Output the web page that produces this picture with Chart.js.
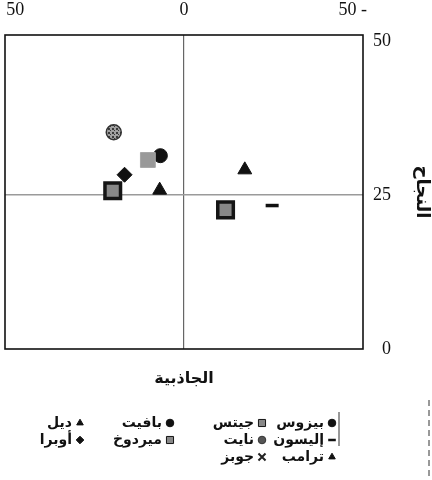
<!DOCTYPE html>
<html lang="ar">
<head>
<meta charset="utf-8">
<script src="https://cdn.jsdelivr.net/npm/chart.js@4.4.0/dist/chart.umd.min.js"></script>
<style>
  html, body { margin: 0; padding: 0; background: #fff; }
</style>
</head>
<body>
<canvas id="chart" width="432" height="480"></canvas>
<script>
// people, in legend order (rows of four, right to left)
const names = ['بيزوس', 'جيتس', 'بافيت', 'ديل', 'إليسون', 'نايت', 'ميردوخ', 'أوبرا', 'ترامب', 'جوبز'];
const attraction = [7.0, -12.3, 10.7, 7.2, -26.1, 20.8, 21.1, 17.6, -18.0, 10.7];
const score = [31.4, 22.6, 30.7, 25.8, 23.3, 35.2, 25.7, 28.3, 29.1, 30.7];

const xTicks = [50, 0, -50];
const xTickLabels = ['50', '0', '50 -'];
const yTicks = [0, 25, 50];
const yTickLabels = ['\u20070', '25', '50'];

const xTitle = 'الجاذبية';
const yTitle = 'النجاح';

// hatched fill for one of the circles
function hatchFill() {
  const p = document.createElement('canvas');
  p.width = 4; p.height = 4;
  const g = p.getContext('2d');
  g.fillStyle = '#a0a0a0';
  g.fillRect(0, 0, 4, 4);
  g.fillStyle = '#3a3a3a';
  g.fillRect(0, 0, 2, 2);
  g.fillRect(2, 2, 1, 1);
  return g.createPattern(p, 'repeat');
}

const markers = [
  { style: 'circle',   r: 7,   fill: '#111', line: '#111', w: 1 },
  { style: 'rect',     r: 11,  fill: '#888', line: '#151515', w: 3.5 },
  { style: 'circle',   r: 6,   fill: '#111', line: '#111', w: 1 },
  { style: 'triangle', r: 8,   fill: '#111', line: '#111', w: 1 },
  { style: 'line',     r: 6.5, fill: '#111', line: '#111', w: 3.5 },
  { style: 'circle',   r: 7.5, fill: hatchFill(), line: '#333', w: 1.5 },
  { style: 'rect',     r: 11,  fill: '#888', line: '#151515', w: 3.5 },
  { style: 'rectRot',  r: 7.5, fill: '#111', line: '#111', w: 1 },
  { style: 'triangle', r: 8,   fill: '#111', line: '#111', w: 1 },
  { style: 'rect',     r: 10.5, fill: '#999', line: '#a5a5a5', w: 1, legendStyle: 'crossRot', front: true }
];

const datasets = names.map((name, i) => ({
  label: name,
  data: [{ x: attraction[i], y: score[i] }],
  order: markers[i].front ? 0 : 1,
  pointStyle: markers[i].style,
  pointRadius: markers[i].r,
  pointHoverRadius: markers[i].r,
  pointBackgroundColor: markers[i].fill,
  pointBorderColor: markers[i].line,
  pointBorderWidth: markers[i].w
}));

const serif = 'Liberation Serif';
const arabic = 'DejaVu Sans';
const noPadding = () => ({ left: 0, top: 0, right: 0, bottom: 0 });

// box around the plot plus the bottom title and the legend
const framePlugin = {
  id: 'frame',
  beforeDatasetsDraw(chart) {
    const { ctx, chartArea: a } = chart;
    ctx.save();
    ctx.strokeStyle = '#111';
    ctx.lineWidth = 1.6;
    ctx.strokeRect(a.left, a.top, a.right - a.left, a.bottom - a.top);
    ctx.restore();
  },
  afterDraw(chart) {
    const { ctx, chartArea: a } = chart;
    const cx = chart.scales.x.getPixelForValue(0);
    ctx.save();
    ctx.fillStyle = '#111';
    ctx.textBaseline = 'middle';
    ctx.textAlign = 'center';
    ctx.font = 'bold 16px "' + arabic + '"';
    ctx.fillText(xTitle, cx, a.bottom + 30);

    const colX = [332, 262, 170, 80];
    const rowY = [423, 440, 457];
    ctx.font = 'bold 14px "' + arabic + '"';
    ctx.textAlign = 'right';
    chart.data.datasets.forEach((ds, i) => {
      const m = markers[i];
      const x = colX[i % 4];
      const y = rowY[Math.floor(i / 4)];
      ctx.fillStyle = typeof m.fill === 'string' ? m.fill : '#555';
      ctx.strokeStyle = m.legendStyle ? '#222' : m.line;
      ctx.lineWidth = m.style === 'line' ? 2.5 : (m.legendStyle ? 2 : 1);
      Chart.helpers.drawPoint(ctx, {
        pointStyle: m.legendStyle || m.style,
        radius: m.style === 'rect' ? 5 : 3.8,
        rotation: 0,
        borderWidth: ctx.lineWidth
      }, x, y);
      ctx.fillStyle = '#111';
      ctx.fillText(ds.label, x - 8, y);
    });

    // legend frame pieces
    ctx.strokeStyle = '#333';
    ctx.lineWidth = 1;
    ctx.beginPath();
    ctx.moveTo(339, 412);
    ctx.lineTo(339, 446);
    ctx.stroke();
    ctx.setLineDash([6, 4]);
    ctx.beginPath();
    ctx.moveTo(429, 400);
    ctx.lineTo(429, 480);
    ctx.stroke();
    ctx.restore();
  }
};

new Chart(document.getElementById('chart'), {
  type: 'scatter',
  data: { datasets },
  options: {
    responsive: false,
    animation: false,
    events: [],
    layout: { autoPadding: false, padding: { left: 5, top: 0, right: 0, bottom: 131 } },
    plugins: {
      legend: { display: false },
      tooltip: { enabled: false }
    },
    scales: {
      x: {
        position: 'top',
        reverse: true,
        min: -53,
        max: 53,
        afterBuildTicks: s => { s.ticks = xTicks.map(v => ({ value: v })); },
        afterFit: s => {
          s.height = 35;
          s.paddingLeft = 0;
          s.paddingRight = 0;
          s.getPadding = noPadding;
        },
        ticks: {
          padding: 14,
          color: '#111',
          font: { family: serif, size: 18 },
          callback: v => xTickLabels[xTicks.indexOf(v)]
        },
        grid: {
          drawTicks: false,
          lineWidth: 1.2,
          color: ctx => (ctx.tick && ctx.tick.value === 0 ? '#666' : 'rgba(0,0,0,0)')
        },
        border: { display: false }
      },
      y: {
        position: 'right',
        min: 0,
        max: 51,
        afterBuildTicks: s => { s.ticks = yTicks.map(v => ({ value: v })); },
        afterFit: s => {
          s.width = 69;
          s.paddingTop = 0;
          s.paddingBottom = 0;
          s.getPadding = noPadding;
        },
        ticks: {
          padding: 10,
          crossAlign: 'near',
          color: '#111',
          font: { family: serif, size: 18 },
          callback: v => yTickLabels[yTicks.indexOf(v)]
        },
        grid: {
          drawTicks: false,
          lineWidth: 1.5,
          color: ctx => (ctx.tick && ctx.tick.value === 25 ? '#9a9a9a' : 'rgba(0,0,0,0)')
        },
        border: { display: false },
        title: {
          display: true,
          text: yTitle,
          color: '#111',
          font: { family: arabic, size: 18, weight: 'bold' },
          padding: { top: 0, bottom: 0 }
        }
      }
    }
  },
  plugins: [framePlugin]
});
</script>
</body>
</html>
